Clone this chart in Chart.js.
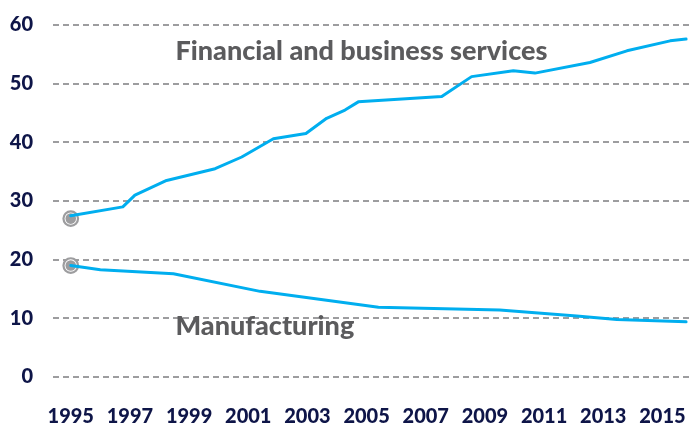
<!DOCTYPE html>
<html>
<head>
<meta charset="utf-8">
<script src="https://cdn.jsdelivr.net/npm/chart.js@4/dist/chart.umd.min.js"></script>
<style>
  html, body { margin: 0; padding: 0; background: #ffffff; }
  #wrap { width: 692px; height: 427px; }
</style>
</head>
<body>
<div id="wrap"><canvas id="c" width="692" height="427"></canvas></div>
<script>
// ---- Data ----
const finYears  = [1995, 1996.76, 1997.17, 1998.24, 1999.88, 2000.78, 2001.85, 2002.95, 2003.65, 2004.27, 2004.72, 2007.54, 2008.55, 2009.96, 2010.69, 2012.55, 2013.8, 2015.26, 2015.8];
const finValues = [27.5, 29.0, 31.0, 33.5, 35.5, 37.5, 40.6, 41.5, 44.1, 45.5, 46.9, 47.8, 51.2, 52.2, 51.8, 53.6, 55.6, 57.3, 57.6];

const mfgYears  = [1995, 1996.0, 1998.47, 2001.4, 2005.4, 2009.5, 2012.1, 2013.46, 2015.8];
const mfgValues = [19.0, 18.3, 17.6, 14.6, 11.9, 11.4, 10.4, 9.8, 9.4];

const markerYears  = [1995, 1995];
const markerValues = [27, 19];

const xTickYears = [1995, 1997, 1999, 2001, 2003, 2005, 2007, 2009, 2011, 2013, 2015];
const yTickValues = [0, 10, 20, 30, 40, 50, 60];

const seriesLabels = ['Financial and business services', 'Manufacturing'];
const labelAnchorYears  = [1998.54, 1998.54];
const labelAnchorValues = [54.0, 7.16];

// ---- Styles ----
const LINE_COLOR = '#00aeef';
const GRID_COLOR = '#9d9d9f';
const TICK_COLOR = '#0e1548';
const NOTE_COLOR = '#5b5b5d';
const FONT = 'Lato, "Open Sans", "DejaVu Sans", sans-serif';

const toPts = (xs, ys) => xs.map((x, i) => ({ x: x, y: ys[i] }));

const notesPlugin = {
  id: 'notes',
  afterDraw(chart) {
    const ctx = chart.ctx;
    const xs = chart.scales.x, ys = chart.scales.y;
    ctx.save();
    ctx.fillStyle = NOTE_COLOR;
    ctx.font = '900 27px ' + FONT;
    ctx.textAlign = 'left';
    ctx.textBaseline = 'alphabetic';
    seriesLabels.forEach((t, i) => {
      ctx.fillText(t, xs.getPixelForValue(labelAnchorYears[i]), ys.getPixelForValue(labelAnchorValues[i]));
    });
    ctx.restore();
  }
};

new Chart(document.getElementById('c'), {
  type: 'scatter',
  data: {
    datasets: [
      {
        label: seriesLabels[0],
        data: toPts(finYears, finValues),
        showLine: true,
        borderColor: LINE_COLOR,
        borderWidth: 3,
        pointRadius: 0,
        tension: 0,
        borderJoinStyle: 'round',
        borderCapStyle: 'round',
        order: 1
      },
      {
        label: seriesLabels[1],
        data: toPts(mfgYears, mfgValues),
        showLine: true,
        borderColor: LINE_COLOR,
        borderWidth: 3,
        pointRadius: 0,
        tension: 0,
        borderJoinStyle: 'round',
        borderCapStyle: 'round',
        order: 1
      },
      {
        label: 'ring',
        data: toPts(markerYears, markerValues),
        showLine: false,
        pointRadius: 7.3,
        pointBackgroundColor: '#ffffff',
        pointBorderColor: GRID_COLOR,
        pointBorderWidth: 2.2,
        order: 3
      },
      {
        label: 'dot',
        data: toPts(markerYears, markerValues),
        showLine: false,
        pointRadius: 5.3,
        pointBackgroundColor: GRID_COLOR,
        pointBorderWidth: 0,
        order: 2
      }
    ]
  },
  options: {
    responsive: false,
    animation: false,
    devicePixelRatio: 1,
    layout: { autoPadding: false, padding: { top: 25, right: 0, left: 0, bottom: 0 } },
    plugins: {
      legend: { display: false },
      tooltip: { enabled: false }
    },
    scales: {
      x: {
        type: 'linear',
        min: 1994.4,
        max: 2016,
        grid: { display: false, drawTicks: false },
        border: { display: false },
        afterBuildTicks: (scale) => { scale.ticks = xTickYears.map(v => ({ value: v })); },
        afterFit: (scale) => { scale.height = 50; scale.paddingLeft = 0; scale.paddingRight = 0; },
        ticks: {
          padding: 30,
          color: TICK_COLOR,
          font: { family: FONT, size: 20, weight: '900', lineHeight: 1 },
          maxRotation: 0,
          autoSkip: false,
          callback: (v) => String(v)
        }
      },
      y: {
        type: 'linear',
        min: 0,
        max: 60,
        grid: { color: GRID_COLOR, lineWidth: 2, drawTicks: false },
        border: { display: false, dash: [6, 4] },
        afterBuildTicks: (scale) => { scale.ticks = yTickValues.map(v => ({ value: v })); },
        afterFit: (scale) => { scale.width = 53; scale.paddingTop = 0; scale.paddingBottom = 0; },
        ticks: {
          padding: 20,
          color: TICK_COLOR,
          font: { family: FONT, size: 20, weight: '900', lineHeight: 1 },
          callback: (v) => String(v)
        }
      }
    }
  },
  plugins: [notesPlugin]
});
</script>
</body>
</html>
